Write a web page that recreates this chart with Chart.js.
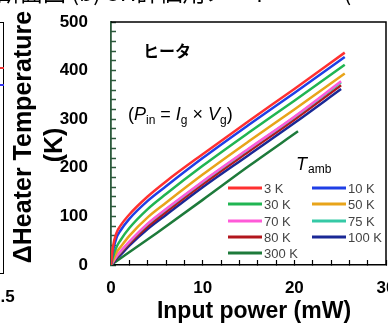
<!DOCTYPE html>
<html>
<head>
<meta charset="utf-8">
<script src="https://cdn.jsdelivr.net/npm/chart.js@4.4.1/dist/chart.umd.min.js"></script>
<style>
  html, body { margin: 0; padding: 0; background: #fff; overflow: hidden; }
  #wrap { position: relative; width: 388px; height: 329px; overflow: hidden; }
  #chart { position: absolute; left: 0; top: 0; }
  #topText { position: absolute; left: -3px; top: -20px; line-height: 23px; font-size: 23px; font-family: "Noto Sans CJK JP"; color: #000; white-space: nowrap; }
  #nbFrame { position: absolute; left: -50px; top: 22px; width: 52px; height: 250px; border: 1.5px solid #000; }
  .nbMark { position: absolute; left: 0; width: 4px; height: 2px; }
  #nbTick { position: absolute; left: -9px; top: 287px; font: bold 17px "Liberation Sans", Arial, sans-serif; color: #000; }
</style>
</head>
<body>
<div id="wrap">
  <canvas id="chart" width="388" height="329"></canvas>
  <div id="topText">断面図 (b) SH評価用ノード　・　(</div>
  <div id="nbFrame"></div>
  <div class="nbMark" style="top:67px;background:#e33;"></div>
  <div class="nbMark" style="top:84px;background:#33e;"></div>
  <div id="nbTick">1.5</div>
</div>
<script>
// Input power (mW) sample points for each curve
const powerA = [0, 0.2, 0.6, 1, 2, 4, 6, 10, 15, 20, 25.5];
const powerB = [0, 0.2, 0.6, 1, 2, 4, 6, 10, 15, 20, 25.1];
const power300 = [0, 5, 10, 15, 20.4];

// Heater temperature rise (K)
const temp3K   = [0, 36, 66, 80, 104, 141, 172, 228, 296, 362, 437];
const temp10K  = [0, 28, 56, 70, 95, 132, 162, 220, 288, 354, 428];
const temp30K  = [0, 16, 37, 50, 76, 115, 146, 204, 272, 338, 412];
const temp50K  = [0, 9, 26, 36, 60, 98, 128, 186, 254, 320, 394];
const temp70K  = [0, 6, 18, 27, 48, 85, 115, 172, 239, 305, 378];
const temp75K  = [0, 6, 17, 26, 47, 84, 114, 171, 238, 304, 376];
const temp80K  = [0, 5, 15, 24, 44, 79, 109, 166, 233, 299, 370];
const temp100K = [0, 4, 13, 20, 40, 74, 103, 160, 226, 292, 362];
const temp300K = [0, 66, 134, 203, 275];

const seriesLabels = ["3 K", "10 K", "30 K", "50 K", "70 K", "75 K", "80 K", "100 K", "300 K"];
const seriesColors = ["#ff3030", "#1f3fe6", "#20b552", "#e8a41a", "#ff5ad8", "#35c9a6", "#b2161c", "#1a2896", "#1d7a3a"];
const seriesX = [powerA, powerA, powerA, powerA, powerB, powerB, powerB, powerB, power300];
const seriesY = [temp3K, temp10K, temp30K, temp50K, temp70K, temp75K, temp80K, temp100K, temp300K];

const yTicks = [0, 100, 200, 300, 400, 500];
const xTicks = [0, 10, 20, 30];

const datasets = seriesLabels.map(function(label, i) {
  return {
    label: label,
    data: seriesX[i].map(function(x, j) { return { x: x, y: seriesY[i][j] }; }),
    borderColor: seriesColors[i],
    borderWidth: 2.5,
    pointRadius: 0,
    fill: false,
    cubicInterpolationMode: "monotone"
  };
});

const tickFont = { family: "'Liberation Sans', Arial, sans-serif", size: 17, weight: "bold" };

// axis titles, annotations, frame and the in-plot legend
const decor = {
  id: "decor",
  afterDraw(chart) {
    const ctx = chart.ctx;
    const a = chart.chartArea;
    ctx.save();

    ctx.strokeStyle = "#000";
    ctx.lineWidth = 1.5;
    ctx.beginPath();
    ctx.moveTo(a.left, a.top);
    ctx.lineTo(a.right, a.top);
    ctx.lineTo(a.right, a.bottom);
    ctx.stroke();

    ctx.fillStyle = "#000";
    ctx.textBaseline = "alphabetic";
    ctx.textAlign = "left";
    ctx.font = "bold 16px 'Noto Sans CJK JP'";
    ctx.fillText("ヒータ", 143, 57);

    // (P_in = I_g x V_g)
    const parts = [
      ["(", "18px", 0], ["P", "italic 18px", 0], ["in", "12px", 4], [" = ", "18px", 0],
      ["I", "italic 18px", 0], ["g", "12px", 4], [" × ", "18px", 0],
      ["V", "italic 18px", 0], ["g", "12px", 4], [")", "18px", 0]
    ];
    let px = 128;
    parts.forEach(function(p) {
      ctx.font = p[1] + " 'Liberation Sans', Arial, sans-serif";
      ctx.fillText(p[0], px, 120 + p[2]);
      px += ctx.measureText(p[0]).width;
    });

    ctx.font = "italic 18px 'Liberation Sans', Arial, sans-serif";
    ctx.fillText("T", 296, 170);
    ctx.font = "12px 'Liberation Sans', Arial, sans-serif";
    ctx.fillText("amb", 308, 173);

    const cols = [228, 312];
    const rows = [188, 204, 221, 237, 253];
    ctx.font = "13px 'Liberation Sans', Arial, sans-serif";
    ctx.textBaseline = "middle";
    chart.data.datasets.forEach(function(ds, i) {
      const x = cols[i % 2];
      const y = rows[Math.floor(i / 2)];
      ctx.strokeStyle = ds.borderColor;
      ctx.lineWidth = 3;
      ctx.beginPath();
      ctx.moveTo(x, y);
      ctx.lineTo(x + 34, y);
      ctx.stroke();
      ctx.fillStyle = "#444";
      ctx.fillText(ds.label, x + 36, y + 1);
    });

    ctx.fillStyle = "#000";
    ctx.textAlign = "center";
    ctx.textBaseline = "middle";
    ctx.font = "bold 23px 'Liberation Sans', Arial, sans-serif";
    ctx.fillText("Input power (mW)", 254, 312);

    ctx.font = "bold 25px 'Liberation Sans', Arial, sans-serif";
    ctx.translate(24, 137);
    ctx.rotate(-Math.PI / 2);
    ctx.fillText("ΔHeater Temperature", 0, 0);
    ctx.fillText("(K)", -8, 31);
    ctx.restore();
  }
};

new Chart(document.getElementById("chart").getContext("2d"), {
  type: "line",
  data: { datasets: datasets },
  options: {
    responsive: false,
    animation: false,
    devicePixelRatio: 1,
    layout: { padding: { top: 22, right: 2, left: 0, bottom: 0 } },
    plugins: { legend: { display: false }, tooltip: { enabled: false } },
    scales: {
      x: {
        type: "linear",
        min: 0,
        max: 30,
        afterFit: function(s) { s.height = 64; s.paddingLeft = 0; s.paddingRight = 0; },
        border: { display: true, color: "#000", width: 1.5 },
        grid: { drawOnChartArea: false, drawTicks: true, tickLength: -5, color: "#000", tickWidth: 1.2 },
        ticks: {
          stepSize: 2,
          autoSkip: false,
          maxRotation: 0,
          padding: 18,
          color: "#000",
          font: tickFont,
          callback: function(v) { return xTicks.includes(v) ? v : ""; }
        }
      },
      y: {
        min: 0,
        max: 500,
        afterFit: function(s) { s.width = 111; s.paddingTop = 0; s.paddingBottom = 0; },
        border: { display: true, color: "#2c5a3c", width: 1.8 },
        grid: { drawOnChartArea: false, drawTicks: true, tickLength: -5, color: "#2c5a3c", tickWidth: 1.5 },
        ticks: {
          stepSize: 20,
          autoSkip: false,
          padding: 28,
          color: "#000",
          font: tickFont,
          callback: function(v) { return yTicks.includes(v) ? v : ""; }
        }
      }
    }
  },
  plugins: [decor]
});
</script>
</body>
</html>
